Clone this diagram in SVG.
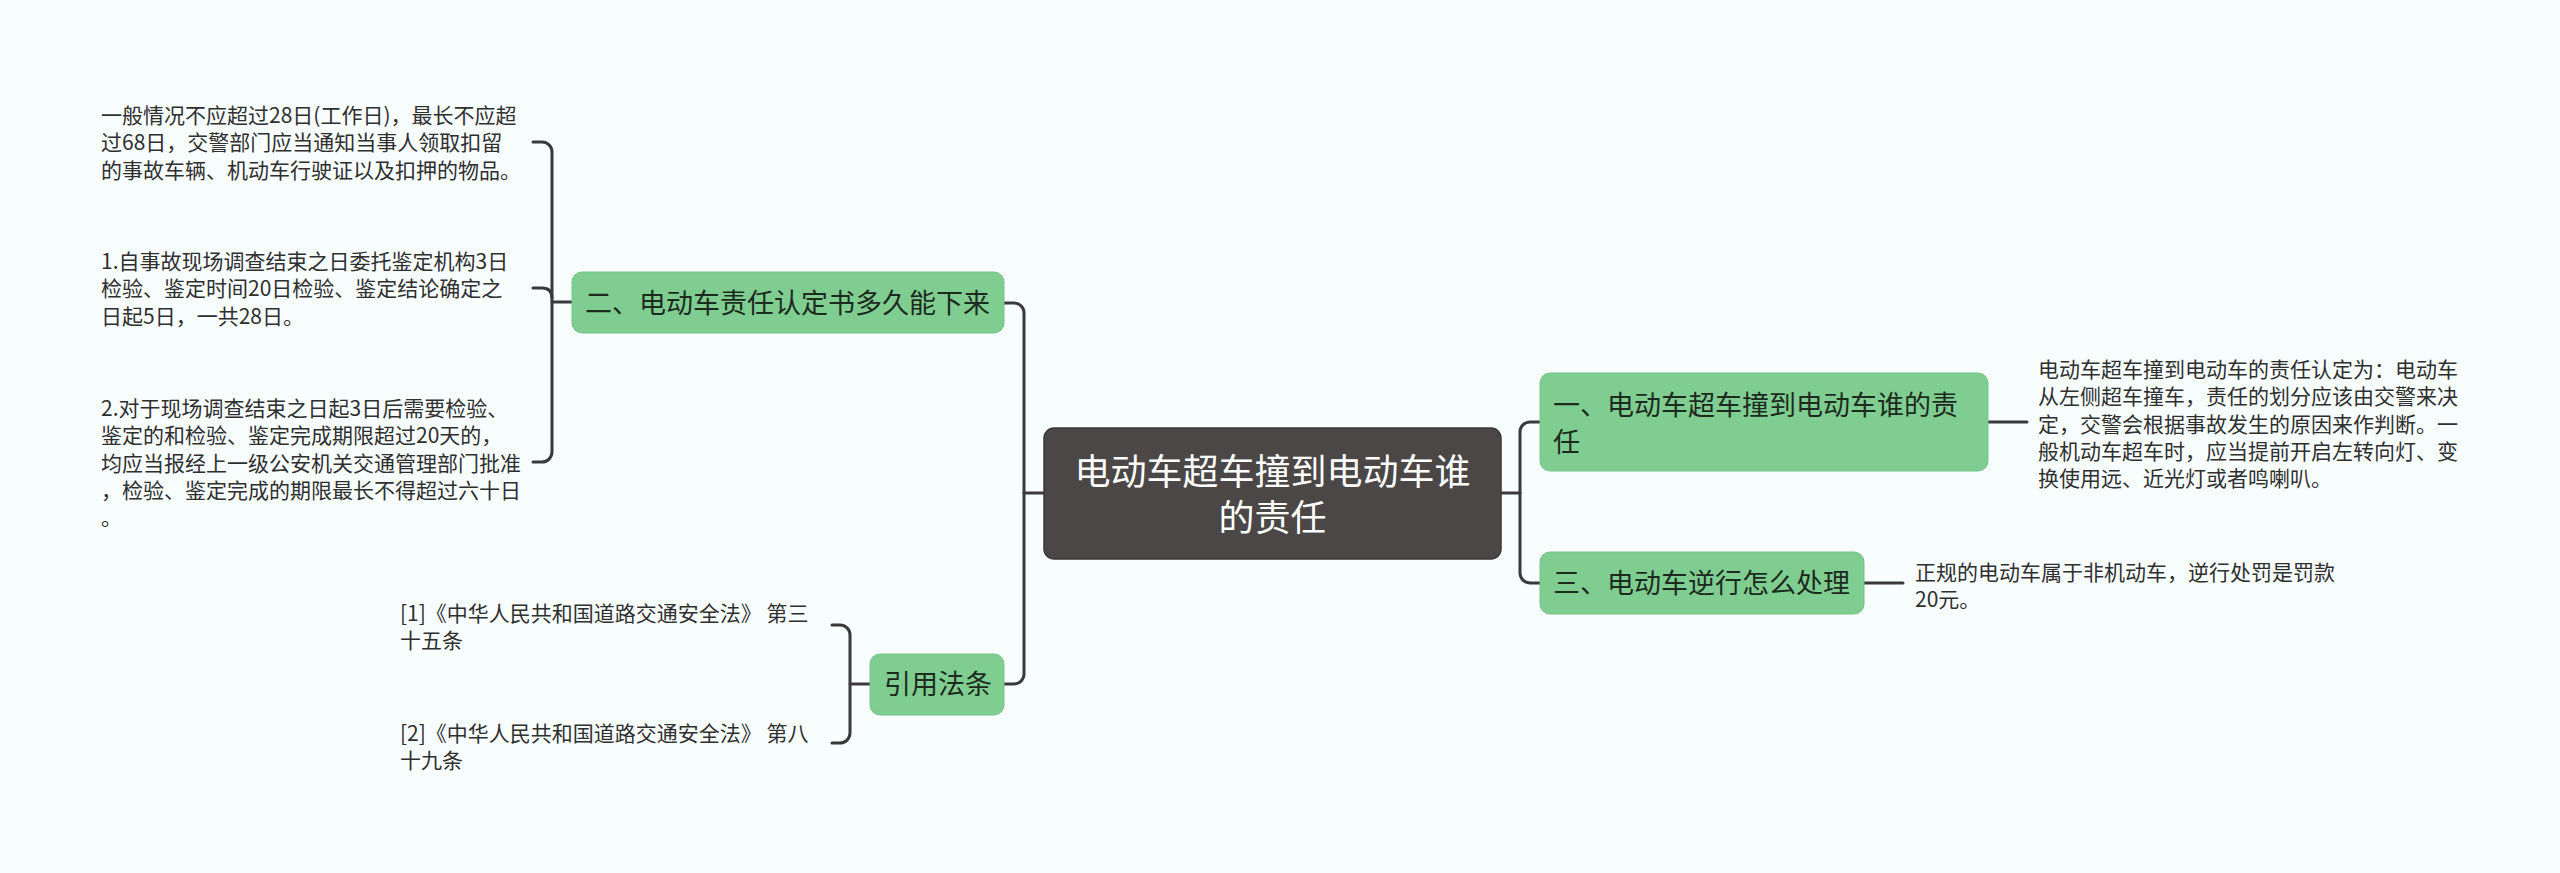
<svg xmlns="http://www.w3.org/2000/svg" width="2560" height="873" viewBox="0 0 2560 873">
<style>
.bg{fill:#f8fdfe}
.con{fill:none;stroke:#3b3939;stroke-width:3;stroke-linecap:round}
.topic{fill:#80cd91;stroke:#76c388;stroke-width:1}
.root{fill:#4b4747;stroke:#3c3838;stroke-width:1.5}
.t{font-family:"Noto Sans CJK SC","Microsoft YaHei",sans-serif}
.rt{font-size:36px;fill:#ffffff}
.tt{font-size:27px;fill:#1d2b1f}
.lt{font-size:21px;fill:#2f2f2f}
</style>
<rect class="bg" x="0" y="0" width="2560" height="873"/>
<g id="connectors">
  <path class="con" d="M1501 493 H1520"/>
  <path class="con" d="M1540 422 H1530 A10 10 0 0 0 1520 432 V573 A10 10 0 0 0 1530 583 H1540"/>
  <path class="con" d="M1988 422 H2027"/>
  <path class="con" d="M1864 583 H1903"/>
  <path class="con" d="M1044 493 H1024"/>
  <path class="con" d="M1004 303 H1014 A10 10 0 0 1 1024 313 V674 A10 10 0 0 1 1014 684 H1004"/>
  <path class="con" d="M572 302 H552"/>
  <path class="con" d="M533 142 H542 A10 10 0 0 1 552 152 V452 A10 10 0 0 1 542 462 H533"/>
  <path class="con" d="M533 288 H542 Q552 288 552 298"/>
  <path class="con" d="M870 684 H850"/>
  <path class="con" d="M832 625 H840 A10 10 0 0 1 850 635 V733 A10 10 0 0 1 840 743 H832"/>
</g>
<g id="root">
  <rect class="root" x="1044" y="428" width="457" height="131" rx="10"/>
  <text class="t rt" text-anchor="middle"><tspan x="1272.5" y="485">电动车超车撞到电动车谁</tspan><tspan x="1272.5" y="531">的责任</tspan></text>
</g>
<g id="topic1">
  <rect class="topic" x="1540" y="373" width="448" height="98" rx="10"/>
  <text class="t tt"><tspan x="1553" y="415">一、电动车超车撞到电动车谁的责</tspan><tspan x="1553" y="452">任</tspan></text>
</g>
<g id="leaf1">
  <text class="t lt"><tspan x="2038" y="377">电动车超车撞到电动车的责任认定为：电动车</tspan><tspan x="2038" y="404.3">从左侧超车撞车，责任的划分应该由交警来决</tspan><tspan x="2038" y="431.6">定，交警会根据事故发生的原因来作判断。一</tspan><tspan x="2038" y="458.9">般机动车超车时，应当提前开启左转向灯、变</tspan><tspan x="2038" y="486.2">换使用远、近光灯或者鸣喇叭。</tspan></text>
</g>
<g id="topic3">
  <rect class="topic" x="1540" y="552" width="324" height="62" rx="10"/>
  <text class="t tt" x="1553" y="593">三、电动车逆行怎么处理</text>
</g>
<g id="leaf3">
  <text class="t lt"><tspan x="1915" y="579.5">正规的电动车属于非机动车，逆行处罚是罚款</tspan><tspan x="1915" y="606.5">20元。</tspan></text>
</g>
<g id="topic2">
  <rect class="topic" x="572" y="272" width="432" height="61" rx="10"/>
  <text class="t tt" x="585" y="313">二、电动车责任认定书多久能下来</text>
</g>
<g id="leaf2a">
  <text class="t lt"><tspan x="101" y="123">一般情况不应超过28日(工作日)，最长不应超</tspan><tspan x="101" y="150.3">过68日，交警部门应当通知当事人领取扣留</tspan><tspan x="101" y="177.6">的事故车辆、机动车行驶证以及扣押的物品。</tspan></text>
</g>
<g id="leaf2b">
  <text class="t lt"><tspan x="101" y="269">1.自事故现场调查结束之日委托鉴定机构3日</tspan><tspan x="101" y="296.3">检验、鉴定时间20日检验、鉴定结论确定之</tspan><tspan x="101" y="323.6">日起5日，一共28日。</tspan></text>
</g>
<g id="leaf2c">
  <text class="t lt"><tspan x="101" y="416">2.对于现场调查结束之日起3日后需要检验、</tspan><tspan x="101" y="443.3">鉴定的和检验、鉴定完成期限超过20天的，</tspan><tspan x="101" y="470.6">均应当报经上一级公安机关交通管理部门批准</tspan><tspan x="101" y="497.9">，检验、鉴定完成的期限最长不得超过六十日</tspan><tspan x="101" y="525.2">。</tspan></text>
</g>
<g id="topic4">
  <rect class="topic" x="870" y="654" width="134" height="61" rx="10"/>
  <text class="t tt" x="884" y="694">引用法条</text>
</g>
<g id="leaf4a">
  <text class="t lt"><tspan x="400" y="621">[1]《中华人民共和国道路交通安全法》 第三</tspan><tspan x="400" y="648">十五条</tspan></text>
</g>
<g id="leaf4b">
  <text class="t lt"><tspan x="400" y="741">[2]《中华人民共和国道路交通安全法》 第八</tspan><tspan x="400" y="768">十九条</tspan></text>
</g>
</svg>
